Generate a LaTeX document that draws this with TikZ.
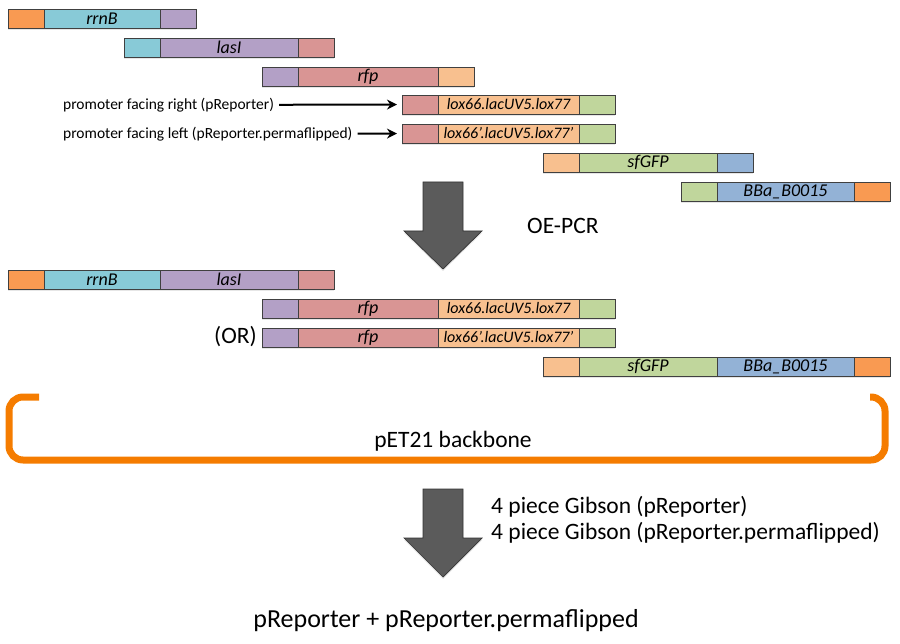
\documentclass[tikz,border=0pt]{standalone}
\usepackage{fontspec}
\setmainfont{Carlito}
\usetikzlibrary{positioning,arrows.meta,shadows}
\definecolor{partorange}{HTML}{F99A52}
\definecolor{partaqua}{HTML}{88CAD7}
\definecolor{partpurple}{HTML}{B3A0C6}
\definecolor{partred}{HTML}{D99594}
\definecolor{partpeach}{HTML}{F8C08F}
\definecolor{partgreen}{HTML}{C0D69C}
\definecolor{partblue}{HTML}{93B2D6}
\definecolor{bbone}{HTML}{F57C00}
\definecolor{bigarrow}{HTML}{5B5B5B}
\begin{document}
\begin{tikzpicture}[x=1pt,y=-1pt,
        seg/.style={draw=black!75, line width=0.7pt, minimum height=19pt, inner sep=0pt, outer sep=0pt,
            font=\fontsize{18}{18}\selectfont\itshape, drop shadow={opacity=0.2, shadow xshift=0pt, shadow yshift=-2pt}},
        sh/.style={seg, minimum width=36pt},
        lg/.style={seg, minimum width=#1},
        lox/.style={font=\fontsize{16}{16}\selectfont\itshape},
        po/.style={fill=partorange}, pa/.style={fill=partaqua}, pp/.style={fill=partpurple},
        pr/.style={fill=partred}, pe/.style={fill=partpeach}, pg/.style={fill=partgreen}, pb/.style={fill=partblue},
        note/.style={inner sep=0pt, font=\fontsize{15.5}{15.5}\selectfont},
        pointer/.style={-{Stealth[length=10pt,width=10pt]}, line width=2pt, shorten <=5pt, shorten >=5pt},
        big/.style={inner sep=0pt, font=\fontsize{23.5}{26}\selectfont},
        bigarr/.style={fill=bigarrow, draw=black!80, line width=0.7pt, drop shadow={opacity=0.2, shadow xshift=0pt, shadow yshift=-2pt}}]
        \useasboundingbox (0,0) rectangle (900,644);

        \node[sh, po, anchor=north west] (a1) at (8,9) {};
        \node[lg=116pt, pa, right=0pt of a1] (a2) {rrnB};
        \node[sh, pp, right=0pt of a2] (a3) {};

        \node[sh, pa, anchor=north west] (b1) at (124,38) {};
        \node[lg=138pt, pp, right=0pt of b1] (b2) {lasI};
        \node[sh, pr, right=0pt of b2] (b3) {};

        \node[sh, pp, anchor=north west] (c1) at (262,67) {};
        \node[lg=140pt, pr, right=0pt of c1] (c2) {rfp};
        \node[sh, pe, right=0pt of c2] (c3) {};

        \node[sh, pr, anchor=north west] (d1) at (402,95) {};
        \node[lg=141pt, pe, lox, right=0pt of d1] (d2) {lox66.lacUV5.lox77};
        \node[sh, pg, right=0pt of d2] (d3) {};

        \node[sh, pr, anchor=north west] (e1) at (402,124) {};
        \node[lg=141pt, pe, lox, right=0pt of e1] (e2) {lox66’.lacUV5.lox77’};
        \node[sh, pg, right=0pt of e2] (e3) {};

        \node[sh, pe, anchor=north west] (f1) at (543,153) {};
        \node[lg=138pt, pg, right=0pt of f1] (f2) {sfGFP};
        \node[sh, pb, right=0pt of f2] (f3) {};

        \node[sh, pg, anchor=north west] (g1) at (681,182) {};
        \node[lg=137pt, pb, right=0pt of g1] (g2) {BBa\_B0015};
        \node[sh, po, right=0pt of g2] (g3) {};

        \node[note, anchor=west] (right) at (63,105) {promoter facing right (pReporter)};
        \node[note, anchor=west] (left) at (63,134) {promoter facing left (pReporter.permaflipped)};
        \draw[pointer] (right) -- (d1);
        \draw[pointer] (left) -- (e1);

        \draw[bigarr] (423,182) -- (463,182) -- (463,231) -- (482,231) -- (443,269) -- (404,231) -- (423,231) -- cycle;
        \node[big, anchor=west] (oepcr) at (527,226) {OE-PCR};

        \node[sh, po, anchor=north west] (h1) at (8,270) {};
        \node[lg=116pt, pa, right=0pt of h1] (h2) {rrnB};
        \node[lg=138pt, pp, right=0pt of h2] (h3) {lasI};
        \node[sh, pr, right=0pt of h3] (h4) {};

        \node[sh, pp, anchor=north west] (i1) at (262,299) {};
        \node[lg=140pt, pr, right=0pt of i1] (i2) {rfp};
        \node[lg=141pt, pe, lox, right=0pt of i2] (i3) {lox66.lacUV5.lox77};
        \node[sh, pg, right=0pt of i3] (i4) {};

        \node[sh, pp, anchor=north west] (j1) at (262,328) {};
        \node[lg=140pt, pr, right=0pt of j1] (j2) {rfp};
        \node[lg=141pt, pe, lox, right=0pt of j2] (j3) {lox66’.lacUV5.lox77’};
        \node[sh, pg, right=0pt of j3] (j4) {};
        \node[big, anchor=east] (or) at (257,337) {(OR)};

        \node[sh, pe, anchor=north west] (k1) at (543,357) {};
        \node[lg=138pt, pg, right=0pt of k1] (k2) {sfGFP};
        \node[lg=137pt, pb, right=0pt of k2] (k3) {BBa\_B0015};
        \node[sh, po, right=0pt of k3] (k4) {};

        \draw[bbone, line width=7pt, rounded corners=14pt] (39,397) -- (9,397) -- (9,460) -- (885,460) -- (885,397) -- (870,397);
        \node[big] (pet) at (453,441) {pET21 backbone};

        \draw[bigarr] (423,489) -- (463,489) -- (463,538) -- (482,538) -- (443,577) -- (404,538) -- (423,538) -- cycle;
        \node[big, anchor=west, align=left] (gibson) at (491,520) {4 piece Gibson (pReporter)\\4 piece Gibson (pReporter.permaflipped)};

        \node[inner sep=0pt, font=\fontsize{26}{26}\selectfont] (final) at (446,621) {pReporter + pReporter.permaflipped};
\end{tikzpicture}
\end{document}
